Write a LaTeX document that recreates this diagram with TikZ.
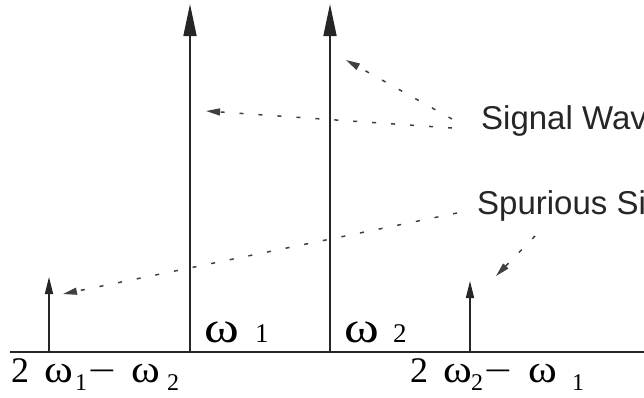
\documentclass[tikz,border=0pt]{standalone}
\usepackage{fontspec}
\setmainfont{Liberation Serif}
\newfontfamily\labsans{Liberation Sans}
\usetikzlibrary{arrows.meta}
\tikzset{
  axis/.style={line width=1.6pt, black!85},
  bigline/.style={line width=1.6pt, black!85, -{Triangle[length=32pt,width=13pt]}},
  smallline/.style={line width=1.4pt, black!85, -{Triangle[length=17pt,width=8pt]}},
  dotline/.style={line width=1.5pt, black!75, dash pattern=on 4pt off 15pt, -{Triangle[length=14pt,width=7pt]}},
  lbl/.style={inner sep=0pt, anchor=base west},
  txt/.style={inner sep=0pt, anchor=west, font=\labsans\fontsize{33}{33}\selectfont, text=black!85}
}
\newcommand{\pc}[2]{\makebox[#1pt][l]{#2}}
\newcommand{\bigw}{\scalebox{1.2}[1]{\fontsize{44}{44}\selectfont ω}}
\newcommand{\midw}{\scalebox{1.12}[1]{\fontsize{39}{39}\selectfont ω}}
\newcommand{\two}{\fontsize{36}{36}\selectfont 2}
\newcommand{\mns}{\scalebox{1.4}[1]{\fontsize{35}{35}\selectfont −}}
\newcommand{\subn}[1]{\raisebox{-8pt}{\fontsize{24}{24}\selectfont #1}}
\newcommand{\upn}[1]{{\fontsize{27}{27}\selectfont #1}}
\begin{document}
\begin{tikzpicture}[x=1pt,y=-1pt]
\useasboundingbox (0,0) rectangle (644,397);
\clip (0,0) rectangle (644,397);
\fill[white] (0,0) rectangle (644,397);
% axis
\coordinate (a0) at (10,352);
\coordinate (a1) at (644,352);
\draw[axis] (a0) -- (a1);
% main lines
\coordinate (f1) at (190,352); \coordinate (t1) at (190,4);
\coordinate (f2) at (330,352); \coordinate (t2) at (330,4);
\coordinate (f3) at (49,352);  \coordinate (t3) at (49,277);
\coordinate (f4) at (470,352); \coordinate (t4) at (470,281);
\draw[bigline] (f1) -- (t1);
\draw[bigline] (f2) -- (t2);
\draw[smallline] (f3) -- (t3);
\draw[smallline] (f4) -- (t4);
% labels
\node[lbl] (w1) at (204,342) {\pc{51}{\bigw}\upn{1}};
\node[lbl] (w2) at (344,342) {\pc{49}{\bigw}\upn{2}};
\node[lbl] (l1) at (11,382) {\pc{33}{\two}\pc{31}{\midw}\pc{13}{\subn{1}}\pc{43}{\mns}\pc{36}{\midw}\subn{2}};
\node[lbl] (l2) at (410,382) {\pc{33}{\two}\pc{28}{\midw}\pc{13}{\subn{2}}\pc{44}{\mns}\pc{44}{\midw}\subn{1}};
% texts
\node[txt] (sig) at (481,121) {Signal Waves};
\node[txt] (spu) at (477,206) {Spurious Signals};
% dotted connectors
\coordinate (s1) at (452,128); \coordinate (e1) at (206,111);
\coordinate (s2) at (452,119); \coordinate (e2) at (346,60);
\coordinate (s3) at (457,213); \coordinate (e3) at (63,294);
\coordinate (s4) at (535,236); \coordinate (e4) at (496,276);
\draw[dotline] (s1) -- (e1);
\draw[dotline] (s2) -- (e2);
\draw[dotline] (s3) -- (e3);
\draw[dotline] (s4) -- (e4);
\end{tikzpicture}
\end{document}
